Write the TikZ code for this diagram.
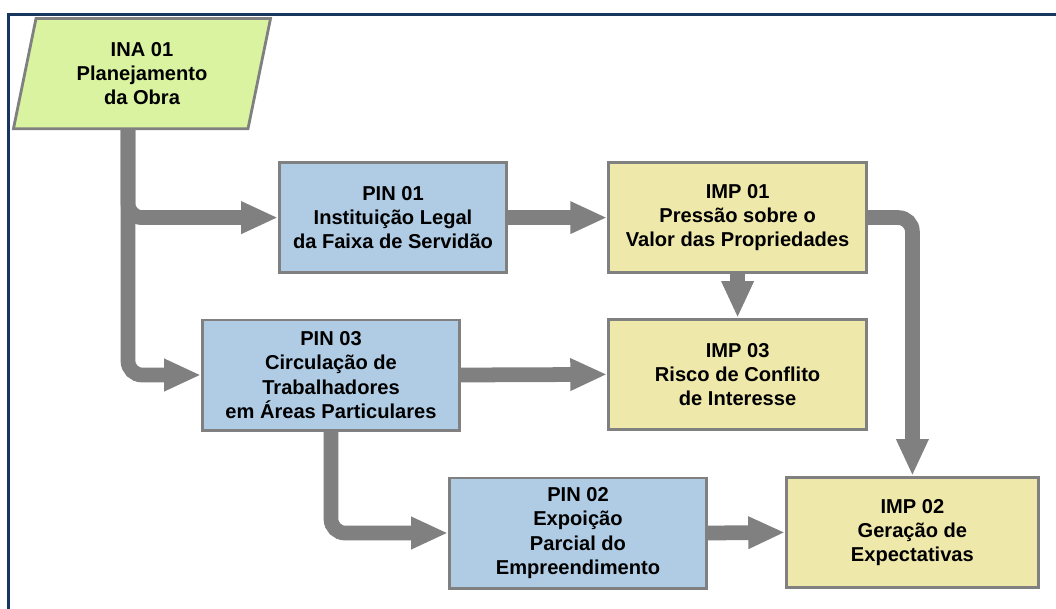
\documentclass[tikz,border=0pt]{standalone}
\usepackage{fontspec}
\setmainfont{Liberation Sans}
\usepackage{tikz}
\usepackage{color}
\usetikzlibrary{arrows.meta}
\usetikzlibrary{shapes.geometric}

\definecolor{boxblue}{RGB}{176,204,228}
\definecolor{boxyellow}{RGB}{238,232,170}
\definecolor{boxgreen}{RGB}{217,243,160}
\definecolor{framenavy}{RGB}{23,54,93}

\begin{document}
\begin{tikzpicture}[
		box/.style={rectangle,draw=gray,line width=2pt,align=center,inner sep=2pt,minimum height=2.755cm,
			font=\fontsize{14.3}{17.2}\selectfont\bfseries},
		pin/.style={box,fill=boxblue},
		imp/.style={box,fill=boxyellow,minimum width=6.455cm},
		flow/.style={draw=gray,line width=10.5pt,rounded corners=0.35cm,-{Triangle[length=0.92cm,width=0.75cm]}}
	]
			\useasboundingbox (0,0) rectangle (26.4,-15.2);
			\draw[framenavy,line width=2.2pt] (0.2125,-15.4) -- (0.2125,-0.3625) -- (26.6,-0.3625);
			
			% ina
			\node[box,trapezium,trapezium left angle=78,trapezium right angle=102,trapezium stretches=true,
				minimum width=6.43cm,minimum height=2.755cm,fill=boxgreen] (INA1) at (3.55,-1.84) {INA 01\\Planejamento\\da Obra};
			
			% pin
			\node[pin,minimum width=5.68cm] (PIN1) at (9.825,-5.44) {PIN 01\\Instituição Legal\\da Faixa de Servidão};
			\node[pin,minimum width=6.43cm] (PIN3) at (8.275,-9.375) {PIN 03\\Circulação de\\Trabalhadores\\em Áreas Particulares};
			\node[pin,minimum width=6.43cm] (PIN2) at (14.45,-13.325) {PIN 02\\Expoição\\Parcial do\\Empreendimento};
			
			% imp
			\node[imp] (IMP1) at (18.44,-5.44) {IMP 01\\Pressão sobre o\\Valor das Propriedades};
			\node[imp] (IMP3) at (18.44,-9.36) {IMP 03\\Risco de Conflito\\de Interesse};
			\node[imp,minimum width=6.3cm] (IMP2) at (22.81,-13.31) {IMP 02\\Geração de\\Expectativas};
			
			\coordinate (stem) at ([xshift=-0.35cm]INA1.south);
			\draw[flow] (stem) |- (PIN1.west);
			\draw[flow] (stem) |- (PIN3.west);
			\draw[flow] (PIN1.east) -- (IMP1.west);
			\draw[flow] (PIN3.east) -- (IMP3.west);
			\draw[flow] (IMP1.south) -- (IMP3.north);
			\draw[flow] (IMP1.east) -| (IMP2.north);
			\draw[flow] (PIN3.south) |- (PIN2.west);
			\draw[flow] (PIN2.east) -- (IMP2.west);
			
		\end{tikzpicture}
\end{document}
